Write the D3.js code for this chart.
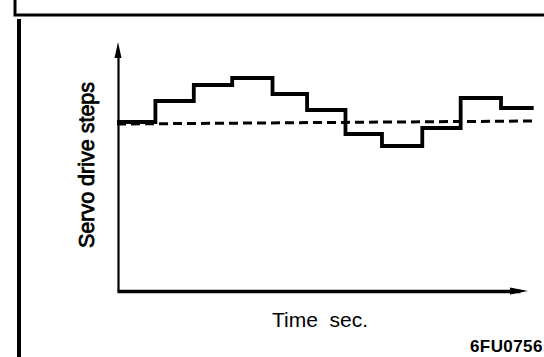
<!DOCTYPE html>
<html>
<head>
<meta charset="utf-8">
<script src="https://cdn.jsdelivr.net/npm/d3@7"></script>
<style>
  html, body { margin: 0; padding: 0; background: #fff; }
  svg { display: block; }
  text { font-family: "Liberation Sans", Arial, sans-serif; fill: #000; }
</style>
</head>
<body>
<script>
// step boundaries (time units) and servo position held during each step
var times = [0, 1, 2, 3, 4.05, 4.95, 5.95, 6.9, 7.95, 8.95, 10, 10.85];
var steps = [169, 190, 206, 213, 197, 181, 157, 145, 163, 193, 183, 183];
// dashed target level at start and end
var refTimes = [0, 10.85];
var refValues = [167, 170];

var xLabel = "Time\u00a0\u00a0sec.";
var yLabel = "Servo drive steps";
var figCode = "6FU0756";

var svgWidth = 544, svgHeight = 357;

var svg = d3.select('body').append('svg')
    .attr('width', svgWidth)
    .attr('height', svgHeight);

var xScale = d3.scaleLinear().domain([0, 10]).range([117, 501]);
var yScale = d3.scaleLinear().domain([0, 250]).range([291, 41]);

// frame from the scanned page
svg.append('path').attr('d', 'M15,0V15H544').attr('fill', 'none')
    .attr('stroke', '#000').attr('stroke-width', 3);
svg.append('line').attr('x1', 19).attr('x2', 19).attr('y1', 19).attr('y2', svgHeight)
    .attr('stroke', '#000').attr('stroke-width', 4);

// axes without ticks
var x_axis = d3.axisBottom(d3.scaleLinear().domain([0, 10.6]).range([117, 520]))
    .tickValues([]).tickSizeOuter(0);
var y_axis = d3.axisLeft(d3.scaleLinear().domain([0, 250]).range([291, 50]))
    .tickValues([]).tickSizeOuter(0);

svg.append('g').attr('transform', 'translate(0, 291)').call(x_axis)
    .select('.domain').attr('stroke-width', 3.5);
svg.append('g').attr('transform', 'translate(118, 0)').call(y_axis)
    .select('.domain').attr('stroke-width', 2.2);

// arrow heads
svg.append('path').attr('d', 'M118,42 L114.5,58 L121.5,58 Z').attr('fill', '#000');
svg.append('path').attr('d', 'M528,291 L510,287.5 L510,294.5 Z').attr('fill', '#000');

// dashed target line
var refData = refTimes.map((t, i) => [t, refValues[i]]);
svg.append('path')
    .datum(refData)
    .attr('d', d3.line().x(d => xScale(d[0])).y(d => yScale(d[1])))
    .attr('fill', 'none')
    .attr('stroke', '#000')
    .attr('stroke-width', 3)
    .attr('stroke-dasharray', '9,5');

// stepped servo response
var stepData = times.map((t, i) => [t, steps[i]]);
svg.append('path')
    .datum(stepData)
    .attr('d', d3.line().curve(d3.curveStepAfter).x(d => xScale(d[0])).y(d => yScale(d[1])))
    .attr('fill', 'none')
    .attr('stroke', '#000')
    .attr('stroke-width', 3.8)
    .attr('stroke-linejoin', 'miter');

// labels
svg.append('text')
    .attr('transform', 'translate(94, 165) rotate(-90)')
    .attr('text-anchor', 'middle')
    .attr('font-size', 21.5)
    .attr('stroke', '#000').attr('stroke-width', 0.8)
    .text(yLabel);

svg.append('text')
    .attr('x', 272).attr('y', 327)
    .attr('font-size', 21)
    .text(xLabel);

svg.append('text')
    .attr('x', 470).attr('y', 352)
    .attr('font-size', 17)
    .attr('font-weight', 'bold')
    .attr('letter-spacing', 0.4)
    .text(figCode);
</script>
</body>
</html>
